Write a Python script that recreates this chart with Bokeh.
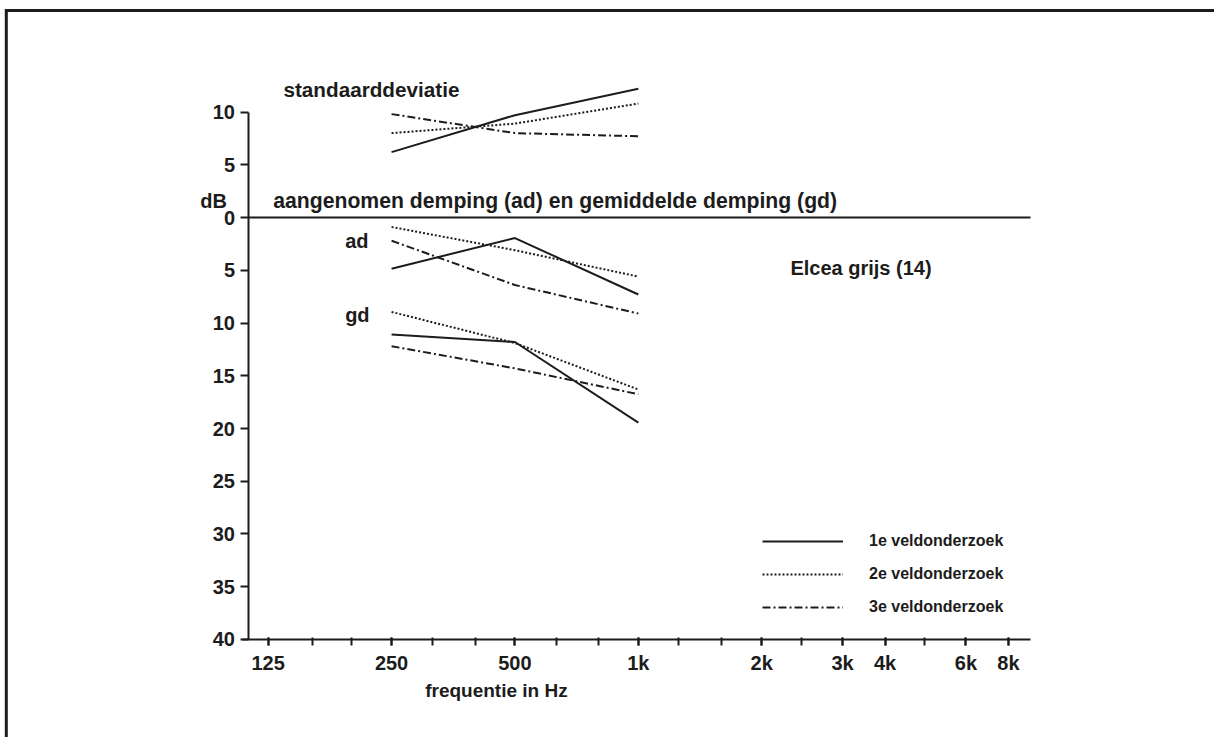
from bokeh.plotting import figure
from bokeh.models import (FixedTicker, Label, Legend, LegendItem,
                          Range1d, LogAxis)
from bokeh.embed import file_html
from bokeh.resources import INLINE

# ---------------- data ----------------
freqs = [250, 500, 1000]

# standaarddeviatie (dB, plotted upward)
sd_1 = [6.2, 9.7, 12.2]
sd_2 = [8.0, 8.9, 10.8]
sd_3 = [9.8, 8.0, 7.7]

# aangenomen demping (dB, plotted downward)
ad_1 = [4.85, 1.95, 7.3]
ad_2 = [0.9, 3.1, 5.6]
ad_3 = [2.2, 6.4, 9.1]

# gemiddelde demping (dB, plotted downward)
gd_1 = [11.1, 11.8, 19.45]
gd_2 = [8.95, 11.9, 16.3]
gd_3 = [12.2, 14.3, 16.75]

series_names = ["1e veldonderzoek", "2e veldonderzoek", "3e veldonderzoek"]

x_tick_values = [125, 250, 500, 1000, 2000, 3150, 4000, 6300, 8000]
x_tick_labels = ["125", "250", "500", "1k", "2k", "3k", "4k", "6k", "8k"]
x_minor_values = [125, 160, 200, 250, 315, 400, 500, 630, 800, 1000, 1250,
                  1600, 2000, 2500, 3150, 4000, 5000, 6300, 8000]
y_tick_values = [-40, -35, -30, -25, -20, -15, -10, -5, 0, 5, 10]

# ---------------- layout constants ----------------
FONT = "Liberation Sans"
INK = "#1c1c1c"
X_MIN, X_MAX = 27.78, 25463
Y_MIN, Y_MAX = -49.29, 20.57
X_AXIS_LEFT, X_AXIS_RIGHT = 108.5, 9053     # extent of the x axis line
Y_AXIS_AT = 111.6                            # x position of the y axis
Y_AXIS_BOTTOM, Y_AXIS_TOP = -40, 10
FRAME_LEFT, FRAME_TOP = 28.7, 19.62          # page frame edges

p = figure(width=1214, height=737, x_axis_type="log",
           x_range=Range1d(X_MIN, X_MAX), y_range=Range1d(Y_MIN, Y_MAX),
           output_backend="svg", toolbar_location=None,
           min_border_left=0, min_border_right=0,
           min_border_top=0, min_border_bottom=0)
p.grid.visible = False
p.outline_line_color = None
p.background_fill_color = "white"
p.border_fill_color = "white"

# x axis (drawn at y = -40)
xa = p.xaxis[0]
xa.fixed_location = Y_AXIS_BOTTOM
xa.bounds = (X_AXIS_LEFT, X_AXIS_RIGHT)
xa.ticker = FixedTicker(ticks=x_tick_values, minor_ticks=x_minor_values)
xa.major_label_overrides = {v: l for v, l in zip(x_tick_values, x_tick_labels)}
xa.axis_line_width = 2
xa.axis_line_color = INK
xa.major_tick_line_color = INK
xa.minor_tick_line_color = INK
xa.major_tick_line_width = 2
xa.minor_tick_line_width = 2
xa.major_tick_in = 2
xa.major_tick_out = 6
xa.minor_tick_in = 2
xa.minor_tick_out = 6
xa.major_label_standoff = 7
xa.major_label_text_font = FONT
xa.major_label_text_font_style = "bold"
xa.major_label_text_font_size = "20px"
xa.major_label_text_color = INK

# y axis
ya = p.yaxis[0]
ya.fixed_location = Y_AXIS_AT
ya.ticker = FixedTicker(ticks=y_tick_values)
ya.major_label_overrides = {v: str(abs(v)) for v in y_tick_values}
ya.bounds = (Y_AXIS_BOTTOM, Y_AXIS_TOP)
ya.axis_line_width = 2
ya.axis_line_color = INK
ya.major_tick_line_color = INK
ya.major_tick_line_width = 2
ya.major_tick_in = 0
ya.major_tick_out = 8
ya.minor_tick_line_color = None
ya.major_label_standoff = 5
ya.major_label_text_font = FONT
ya.major_label_text_font_style = "bold"
ya.major_label_text_font_size = "20px"
ya.major_label_text_color = INK

# zero line
p.add_layout(LogAxis(fixed_location=0, bounds=(Y_AXIS_AT, X_AXIS_RIGHT),
                     ticker=FixedTicker(ticks=[]),
                     axis_line_width=2, axis_line_color=INK,
                     major_tick_line_color=None, minor_tick_line_color=None,
                     major_label_text_font_size="0px"), "below")

# page frame: only its top and left edges fall inside the picture
p.line([FRAME_LEFT, FRAME_LEFT, X_MAX * 4], [Y_MIN - 50, FRAME_TOP, FRAME_TOP],
       line_color=INK, line_width=3, line_join="miter")

dashes = ["solid", "2 2", "8 3 2 3"]
std_sets = [sd_1, sd_2, sd_3]
ad_sets = [ad_1, ad_2, ad_3]
gd_sets = [gd_1, gd_2, gd_3]

legend_items = []
for i in range(3):
    r = p.line(freqs, std_sets[i], line_color=INK, line_width=2,
               line_dash=dashes[i])
    p.line(freqs, [-v for v in ad_sets[i]], line_color=INK, line_width=2,
           line_dash=dashes[i])
    p.line(freqs, [-v for v in gd_sets[i]], line_color=INK, line_width=2,
           line_dash=dashes[i])
    legend_items.append(LegendItem(label=series_names[i], renderers=[r]))

legend = Legend(items=legend_items, location=(762, 120),
                glyph_width=81, glyph_height=20, label_height=20,
                label_standoff=26, spacing=13, padding=0, margin=0,
                border_line_alpha=0, background_fill_alpha=0,
                label_text_font=FONT, label_text_font_style="bold",
                label_text_font_size="16px", label_text_color=INK)
p.add_layout(legend)


def add_label(x, y, text, size="20px"):
    p.add_layout(Label(x=x, y=y, text=text, text_font=FONT,
                       text_font_style="bold", text_font_size=size,
                       text_color=INK, text_baseline="middle",
                       text_align="left"))


add_label(136.2, 12.13, "standaarddeviatie", "20.7px")
add_label(128.6, 1.65, "aangenomen demping (ad) en gemiddelde demping (gd)",
          "21.2px")
add_label(85.3, 1.6, "dB")
add_label(192.6, -2.2, "ad")
add_label(192.6, -9.2, "gd")
add_label(2350, -4.83, "Elcea grijs (14)")
add_label(302, -44.83, "frequentie in Hz", "19px")

open("out.html", "w").write(file_html(p, INLINE))
